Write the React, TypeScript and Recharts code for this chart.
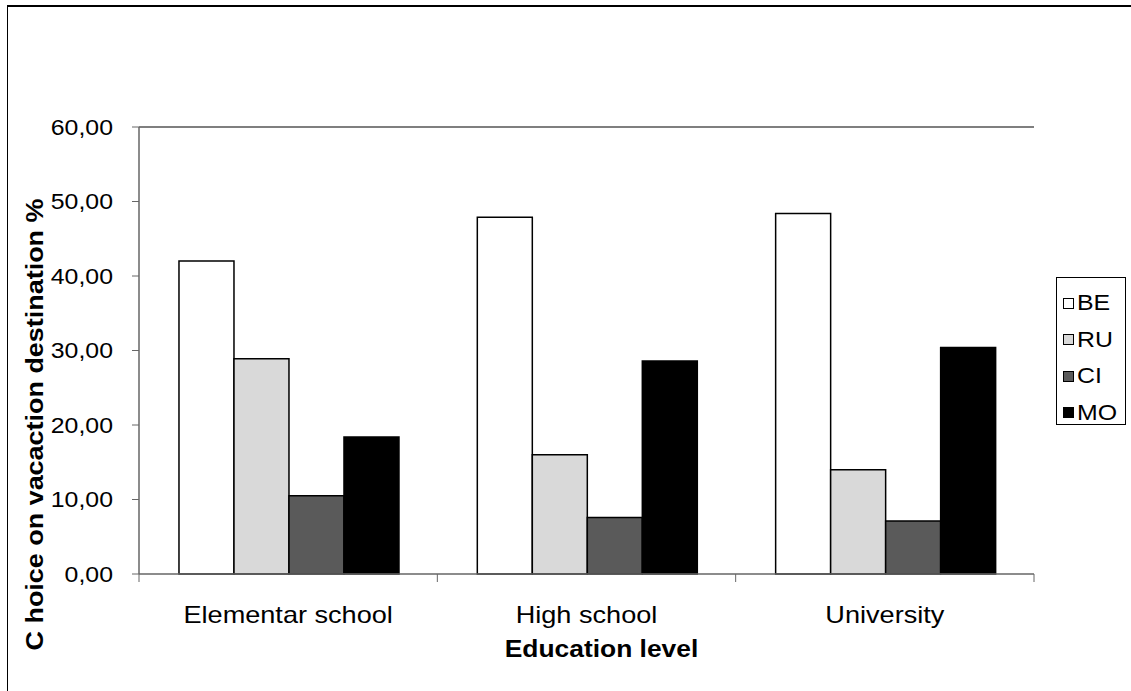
import { Bar, BarChart, Legend, ReferenceLine, XAxis, YAxis } from 'recharts';

const categories = ['Elementar school', 'High school', 'University'];
const seriesNames = ['BE', 'RU', 'CI', 'MO'];
const beValues = [42.0, 47.9, 48.4];
const ruValues = [28.9, 16.0, 14.0];
const ciValues = [10.5, 7.6, 7.1];
const moValues = [18.4, 28.6, 30.4];
const yTicks = [0, 10, 20, 30, 40, 50, 60];

const seriesValues = [beValues, ruValues, ciValues, moValues];
const fills = ['#ffffff', '#d9d9d9', '#5a5a5a', '#000000'];

const data = categories.map((name, i) => {
    const row: Record<string, string | number> = { name };
    seriesNames.forEach((s, j) => {
        row[s] = seriesValues[j][i];
    });
    return row;
});

const FONT = '"Liberation Sans", Arial, sans-serif';
const STRETCH = 1.13;
const AXIS_COLOR = '#666';

const fmt = (v: number) => v.toFixed(2).replace('.', ',');

// category label plus the small tick marks at the band edges
const CategoryTick = (props: any) => {
    const { x, y, payload, index, visibleTicksCount } = props;
    const half = payload?.offset ?? 0;
    const last = index === visibleTicksCount - 1;
    return (
        <g>
            <line x1={x - half} x2={x - half} y1={y} y2={y + 8} stroke={AXIS_COLOR} />
            {last && <line x1={x + half} x2={x + half} y1={y} y2={y + 8} stroke={AXIS_COLOR} />}
            <g transform={`translate(${x},${y + 49}) scale(${STRETCH},1)`}>
                <text textAnchor="middle" fontSize={24} fontFamily={FONT} fill="#000">
                    {payload.value}
                </text>
            </g>
        </g>
    );
};

const ValueTick = (props: any) => {
    const { x, y, payload } = props;
    return (
        <g transform={`translate(${x},${y}) scale(${STRETCH},1)`}>
            <text textAnchor="end" dy="0.36em" fontSize={22} fontFamily={FONT} fill="#000">
                {fmt(payload.value)}
            </text>
        </g>
    );
};

const XTitle = (props: any) => {
    const vb = props.viewBox;
    const cx = vb.x + vb.width / 2 + 15;
    const cy = vb.y + vb.height - 34;
    return (
        <g transform={`translate(${cx},${cy}) scale(1.1,1)`}>
            <text textAnchor="middle" fontSize={24} fontWeight="bold" fontFamily={FONT} fill="#000">
                Education level
            </text>
        </g>
    );
};

const YTitle = (props: any) => {
    const vb = props.viewBox;
    const cy = vb.y + vb.height / 2 + 74;
    return (
        <g transform={`translate(43,${cy}) rotate(-90)`}>
            <text
                textAnchor="middle"
                fontSize={23}
                fontWeight="bold"
                fontFamily={FONT}
                fill="#000"
                textLength={452}
                lengthAdjust="spacingAndGlyphs"
            >
                C hoice on vacaction destination %
            </text>
        </g>
    );
};

// keep legend entries in series order
const LegendBox = (props: any) => {
    const items = [...(props.payload || [])].sort(
        (a: any, b: any) => seriesNames.indexOf(a.value) - seriesNames.indexOf(b.value)
    );
    return (
        <div
            style={{
                boxSizing: 'border-box',
                border: '1px solid #000',
                background: '#fff',
                width: 70,
                height: 148,
                padding: '7px 0 0 6px',
                fontFamily: FONT,
                fontSize: 22,
            }}
        >
            {items.map((it: any) => (
                <div key={it.value} style={{ display: 'flex', alignItems: 'center', height: 36.5 }}>
                    <span
                        style={{
                            width: 9,
                            height: 9,
                            border: '1px solid #000',
                            background: it.color,
                            marginRight: 3,
                            flex: 'none',
                        }}
                    />
                    <span style={{ display: 'inline-block', transform: `scaleX(${STRETCH})`, transformOrigin: 'left' }}>
                        {it.value}
                    </span>
                </div>
            ))}
        </div>
    );
};

export default function App() {
    return (
        <div style={{ position: 'absolute', left: 0, top: 0, width: 1131, height: 691, overflow: 'hidden', background: '#fff' }}>
            <div
                style={{
                    position: 'absolute',
                    left: 7,
                    top: 5,
                    width: 1140,
                    height: 700,
                    borderLeft: '1px solid #000',
                    borderTop: '2px solid #000',
                }}
            />
            <div style={{ position: 'absolute', left: 0, top: 0 }}>
                <BarChart
                    width={1131}
                    height={691}
                    data={data}
                    margin={{ top: 127, right: 97, bottom: 0, left: 69 }}
                    barCategoryGap="13.4%"
                    barGap={0}
                >
                    <XAxis
                        dataKey="name"
                        height={117}
                        interval={0}
                        tickSize={0}
                        tickMargin={0}
                        tickLine={false}
                        axisLine={{ stroke: AXIS_COLOR, strokeWidth: 1.5 }}
                        tick={<CategoryTick />}
                        label={{ content: <XTitle /> }}
                    />
                    <YAxis
                        domain={[0, 60]}
                        ticks={yTicks}
                        width={70}
                        tickSize={7}
                        tickMargin={19}
                        axisLine={{ stroke: AXIS_COLOR, strokeWidth: 1.5 }}
                        tickLine={{ stroke: AXIS_COLOR }}
                        tick={<ValueTick />}
                        label={{ content: <YTitle /> }}
                    />
                    <YAxis
                        yAxisId="frame"
                        orientation="right"
                        width={0}
                        tick={false}
                        tickLine={false}
                        axisLine={{ stroke: '#444', strokeWidth: 1.5 }}
                    />
                    <ReferenceLine y={60} stroke="#555" strokeWidth={1.5} />
                    <Legend
                        layout="vertical"
                        align="center"
                        verticalAlign="middle"
                        wrapperStyle={{ left: 1056, top: 277, width: 'auto' }}
                        content={<LegendBox />}
                    />
                    {seriesNames.map((s, j) => (
                        <Bar
                            key={s}
                            dataKey={s}
                            fill={fills[j]}
                            stroke="#000"
                            strokeWidth={1.5}
                            isAnimationActive={false}
                        />
                    ))}
                </BarChart>
            </div>
        </div>
    );
}
